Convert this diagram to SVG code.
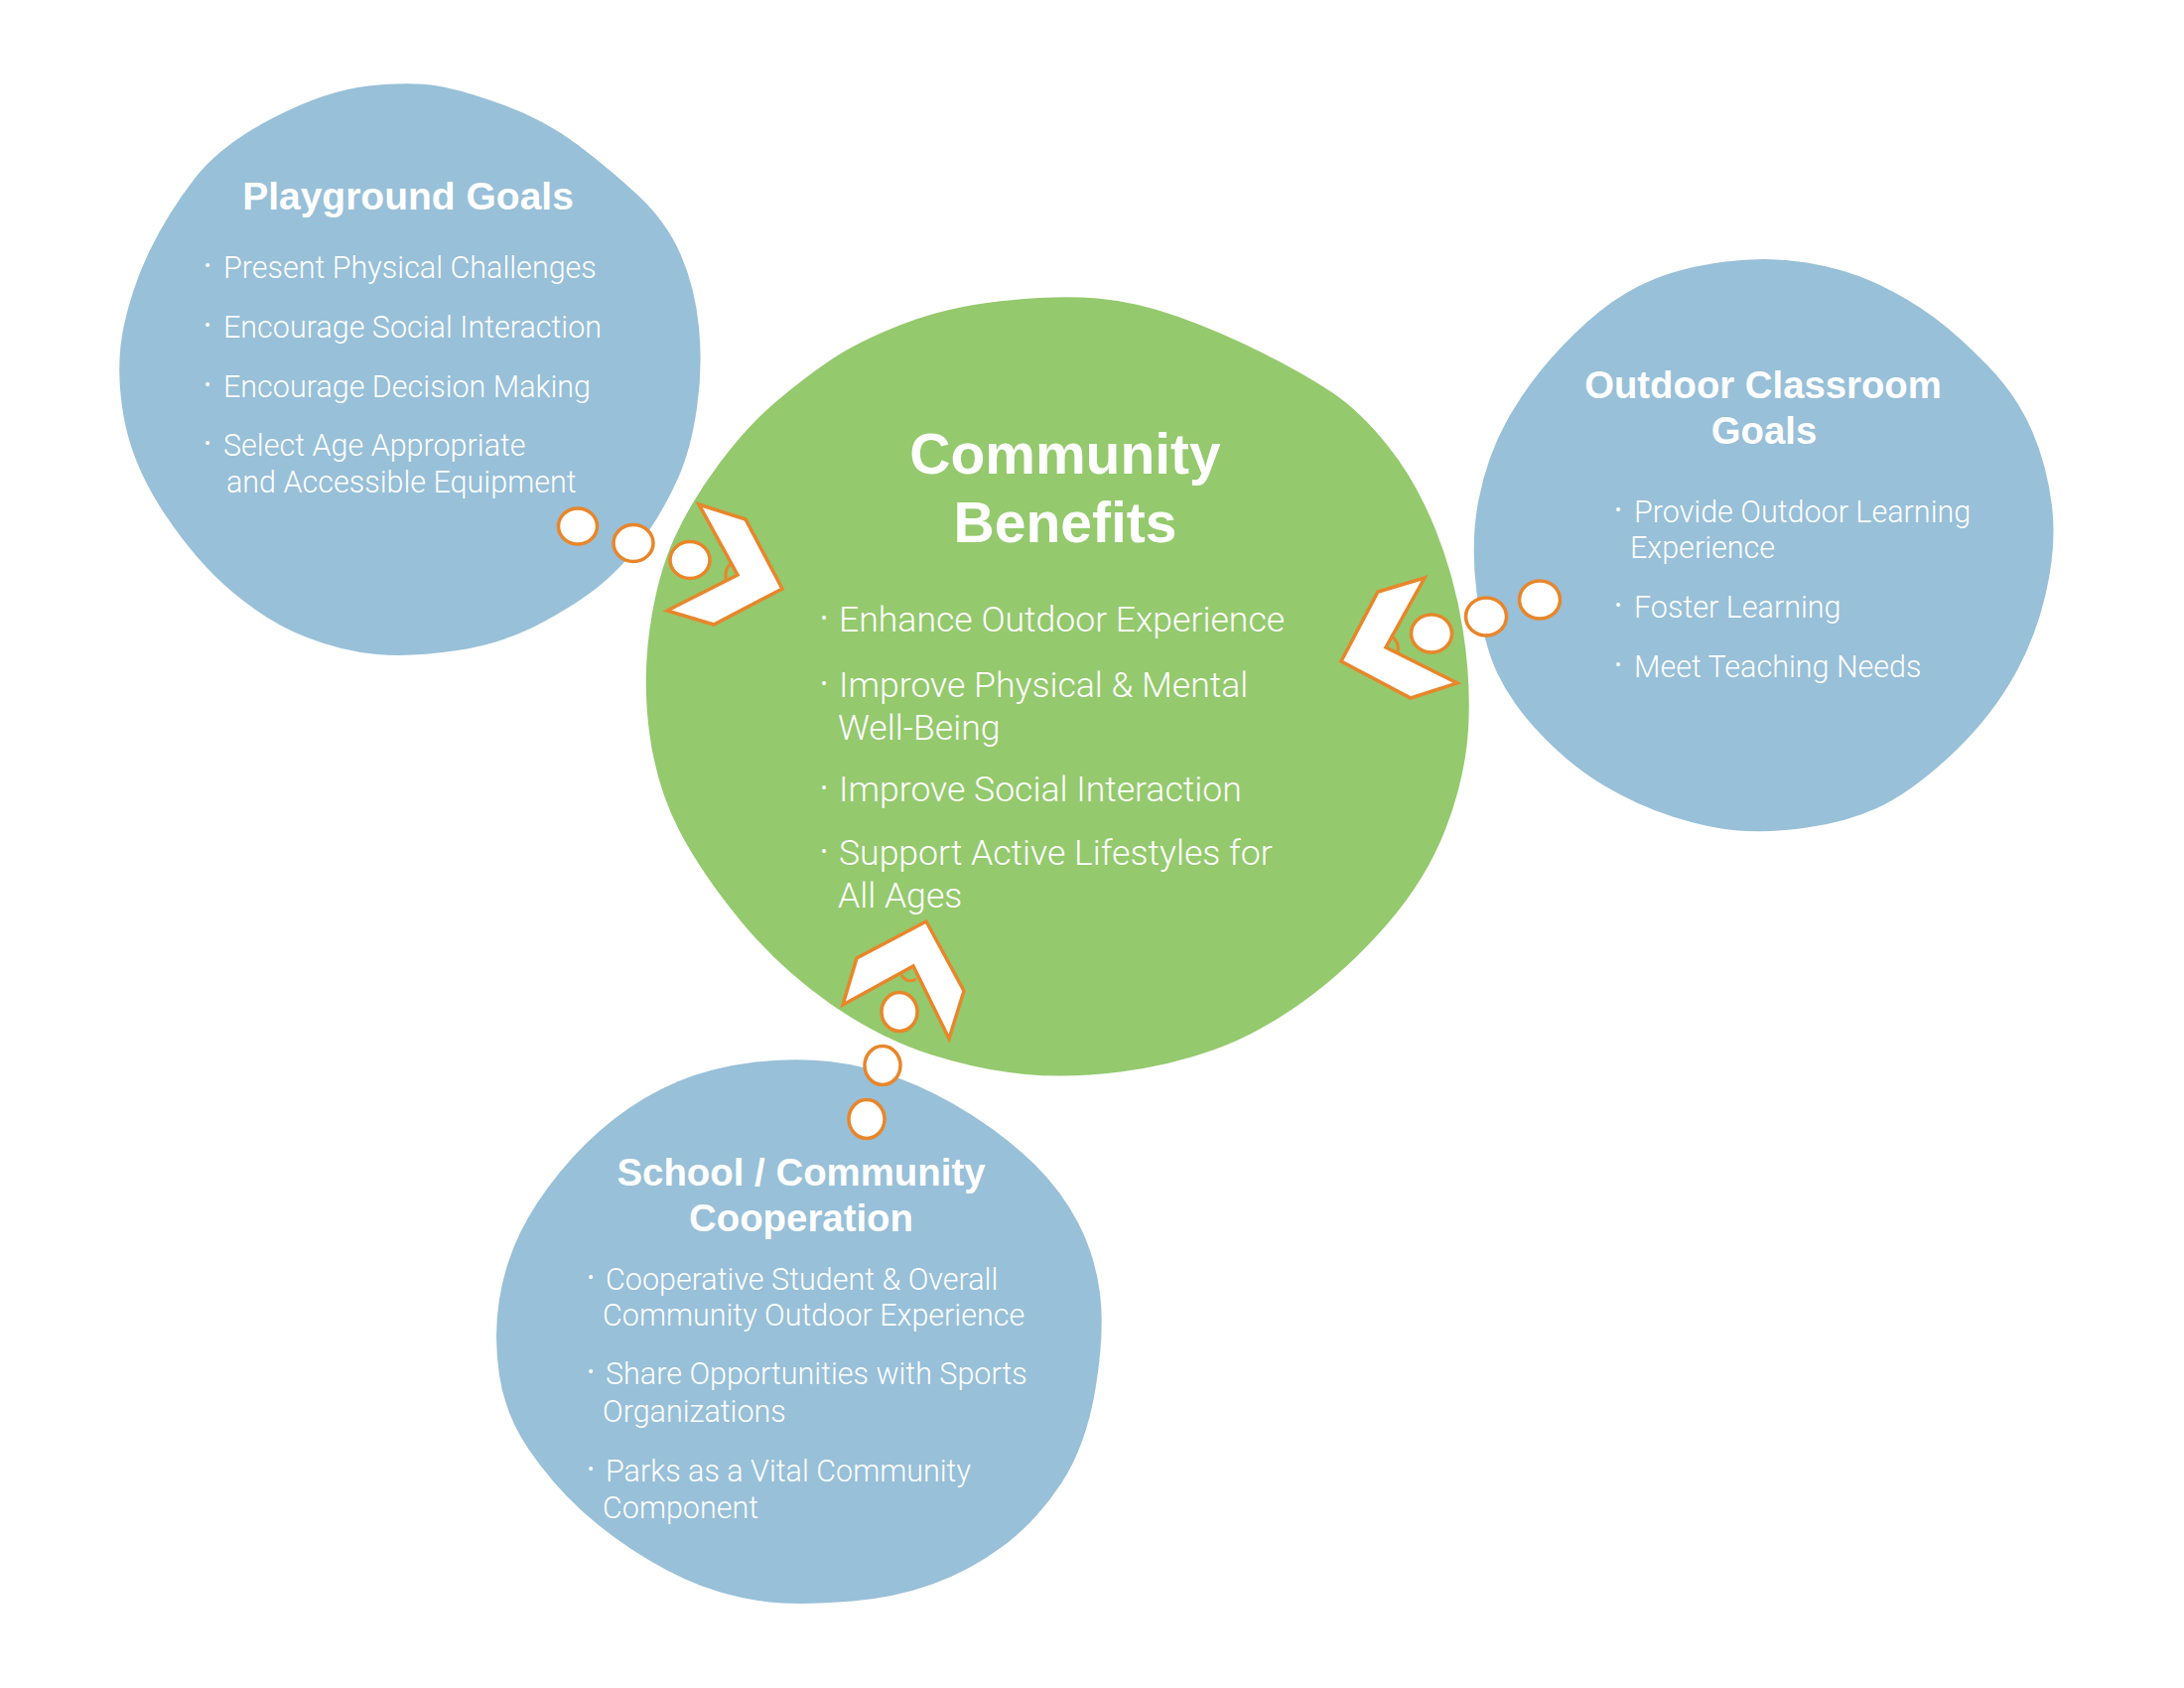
<svg xmlns="http://www.w3.org/2000/svg" width="2200" height="1700" viewBox="0 0 2200 1700">
<style>
.blue{fill:#98C0D8}
.green{fill:#94C96D}
.hd{font-family:"Liberation Sans",Arial,sans-serif;font-weight:bold;fill:#fff;text-anchor:middle}
.it{font-family:Roboto,"Liberation Sans",Arial,sans-serif;font-weight:300;fill:#fff}
.s{font-size:30.5px}
.g{font-size:35.6px}
.b{font-size:18px;font-weight:400}
.bub{fill:#fff;stroke:#E8862A;stroke-width:3.5}
.chev{fill:#fff;stroke:#E8862A;stroke-width:3.5;stroke-linejoin:miter}
.notch{fill:none;stroke:#E8862A;stroke-width:3}
</style>
<rect width="2200" height="1700" fill="#fff"/>

<g id="playground-goals">
<path class="blue" d="M371.5,86.5 Q414,82 440.5,86.5 Q467,91 508,106 Q549,121 581.5,145.5 Q614,170 642.5,196.5 Q671,223 685.5,256 Q700,289 704,329.5 Q708,370 702,411 Q696,452 683.5,480.5 Q671,509 653,535.5 Q635,562 612.5,582.5 Q590,603 549,625.5 Q508,648 461,655 Q414,662 379.5,659 Q345,656 308,641.5 Q271,627 234.5,596.5 Q198,566 165.5,517 Q133,468 124.5,419 Q116,370 124.5,329.5 Q133,289 151,252 Q169,215 195.5,180.5 Q222,146 275.5,118.5 Q329,91 371.5,86.5 Z"/>
<text class="hd" x="411" y="211" font-size="39">Playground Goals</text>
<text class="it s" x="206" y="280"><tspan class="b" dy="-6">•</tspan><tspan x="225" dy="6">Present Physical Challenges</tspan></text>
<text class="it s" x="206" y="340"><tspan class="b" dy="-6">•</tspan><tspan x="225" dy="6">Encourage Social Interaction</tspan></text>
<text class="it s" x="206" y="400"><tspan class="b" dy="-6">•</tspan><tspan x="225" dy="6">Encourage Decision Making</tspan></text>
<text class="it s" x="206" y="459"><tspan class="b" dy="-6">•</tspan><tspan x="225" dy="6">Select Age Appropriate</tspan></text>
<text class="it s" x="228" y="496">and Accessible Equipment</text>
</g>

<g id="community-benefits">
<path class="green" d="M1010,303 Q1066,297 1105.5,300.5 Q1145,304 1187,319 Q1229,334 1271,355 Q1313,376 1341.5,395 Q1370,414 1398,449 Q1426,484 1445.5,532 Q1465,580 1473.5,633.5 Q1482,687 1479,735 Q1476,783 1456.5,834 Q1437,885 1397.5,930.5 Q1358,976 1313,1008.5 Q1268,1041 1223.5,1057 Q1179,1073 1128.5,1079.5 Q1078,1086 1033,1082 Q988,1078 937.5,1062 Q887,1046 836.5,1011 Q786,976 746.5,928 Q707,880 684.5,837 Q662,794 654.5,740.5 Q647,687 654.5,633.5 Q662,580 679,542.5 Q696,505 724,467.5 Q752,430 780,406 Q808,382 836,363 Q864,344 909,326.5 Q954,309 1010,303 Z"/>
<text class="hd" x="1073" y="477" font-size="57">Community</text>
<text class="hd" x="1073" y="546" font-size="57">Benefits</text>
<text class="it g" x="827" y="636"><tspan class="b" dy="-7">•</tspan><tspan x="845" dy="7">Enhance Outdoor Experience</tspan></text>
<text class="it g" x="827" y="702"><tspan class="b" dy="-7">•</tspan><tspan x="845" dy="7">Improve Physical &amp; Mental</tspan></text>
<text class="it g" x="844" y="745">Well-Being</text>
<text class="it g" x="827" y="807"><tspan class="b" dy="-7">•</tspan><tspan x="845" dy="7">Improve Social Interaction</tspan></text>
<text class="it g" x="827" y="871"><tspan class="b" dy="-7">•</tspan><tspan x="845" dy="7">Support Active Lifestyles for</tspan></text>
<text class="it g" x="844" y="914">All Ages</text>
</g>

<g id="outdoor-classroom-goals">
<path class="blue" d="M1738,263.5 Q1780,258 1820,264.5 Q1860,271 1891.5,286 Q1923,301 1948,319.5 Q1973,338 2002.5,368.5 Q2032,399 2047,434 Q2062,469 2067,509.5 Q2072,550 2060.5,599 Q2049,648 2024,689 Q1999,730 1961,764.5 Q1923,799 1891.5,813.5 Q1860,828 1820,833.5 Q1780,839 1750.5,836.5 Q1721,834 1685,822.5 Q1649,811 1615.5,791 Q1582,771 1552.5,740 Q1523,709 1508.5,678.5 Q1494,648 1487.5,597 Q1481,546 1489.5,503 Q1498,460 1517,425.5 Q1536,391 1561,362.5 Q1586,334 1611.5,313.5 Q1637,293 1666.5,281 Q1696,269 1738,263.5 Z"/>
<text class="hd" x="1776" y="401" font-size="38.3">Outdoor Classroom</text>
<text class="hd" x="1777" y="447" font-size="38.3">Goals</text>
<text class="it s" x="1627" y="526"><tspan class="b" dy="-6">•</tspan><tspan x="1646" dy="6">Provide Outdoor Learning</tspan></text>
<text class="it s" x="1642" y="562">Experience</text>
<text class="it s" x="1627" y="622"><tspan class="b" dy="-6">•</tspan><tspan x="1646" dy="6">Foster Learning</tspan></text>
<text class="it s" x="1627" y="682"><tspan class="b" dy="-6">•</tspan><tspan x="1646" dy="6">Meet Teaching Needs</tspan></text>
</g>

<g id="school-community-cooperation">
<path class="blue" d="M758,1070 Q800,1065 835.5,1069 Q871,1073 907,1086.5 Q943,1100 979,1123 Q1015,1146 1042,1172.5 Q1069,1199 1086,1231.5 Q1103,1264 1108,1302.5 Q1113,1341 1103.5,1398.5 Q1094,1456 1069,1494 Q1044,1532 1010.5,1557 Q977,1582 939,1595.5 Q901,1609 859,1612.5 Q817,1616 787.5,1614.5 Q758,1613 724,1603 Q690,1593 652.5,1570.5 Q615,1548 585.5,1521 Q556,1494 532.5,1459.5 Q509,1425 503,1385 Q497,1345 503,1308.5 Q509,1272 524,1241.5 Q539,1211 564,1180.5 Q589,1150 618.5,1127 Q648,1104 682,1089.5 Q716,1075 758,1070 Z"/>
<text class="hd" x="807" y="1194" font-size="38.4">School / Community</text>
<text class="hd" x="807" y="1240" font-size="38.4">Cooperation</text>
<text class="it s" x="592" y="1299"><tspan class="b" dy="-6">•</tspan><tspan x="610" dy="6">Cooperative Student &amp; Overall</tspan></text>
<text class="it s" x="607" y="1335">Community Outdoor Experience</text>
<text class="it s" x="592" y="1394"><tspan class="b" dy="-6">•</tspan><tspan x="610" dy="6">Share Opportunities with Sports</tspan></text>
<text class="it s" x="607" y="1432">Organizations</text>
<text class="it s" x="592" y="1492"><tspan class="b" dy="-6">•</tspan><tspan x="610" dy="6">Parks as a Vital Community</tspan></text>
<text class="it s" x="607" y="1529">Component</text>
</g>

<g id="connectors">
<g id="playground-to-benefits">
<ellipse class="bub" cx="582" cy="530" rx="19.5" ry="18"/>
<ellipse class="bub" cx="638" cy="547" rx="20" ry="18.5"/>
<ellipse class="bub" cx="695" cy="564" rx="20" ry="18.5"/>
<path class="chev" d="M704,508 L751,523 L788,593 L719,629 L672,615 L743,579 Z"/>
<path class="notch" d="M731,583 Q730,572 736,568"/>
</g>
<g id="classroom-to-benefits">
<ellipse class="bub" cx="1442" cy="638" rx="20.5" ry="19"/>
<ellipse class="bub" cx="1497" cy="621" rx="20.5" ry="19"/>
<ellipse class="bub" cx="1551" cy="604" rx="20.5" ry="19"/>
<path class="chev" d="M1435,582 L1388,596 L1351,666 L1421,703 L1468,688 L1396,652 Z"/>
<path class="notch" d="M1401,640 Q1410,646 1408,657"/>
</g>
<g id="cooperation-to-benefits">
<ellipse class="bub" cx="906" cy="1019" rx="18" ry="19.5"/>
<ellipse class="bub" cx="889" cy="1073" rx="18" ry="19.5"/>
<ellipse class="bub" cx="873" cy="1127" rx="18" ry="19.5"/>
<path class="chev" d="M933,928 L971,998 L956,1046 L920,973 L849,1012 L863,965 Z"/>
<path class="notch" d="M908,982 Q914,991 923,986"/>
</g>
</g>
</svg>
